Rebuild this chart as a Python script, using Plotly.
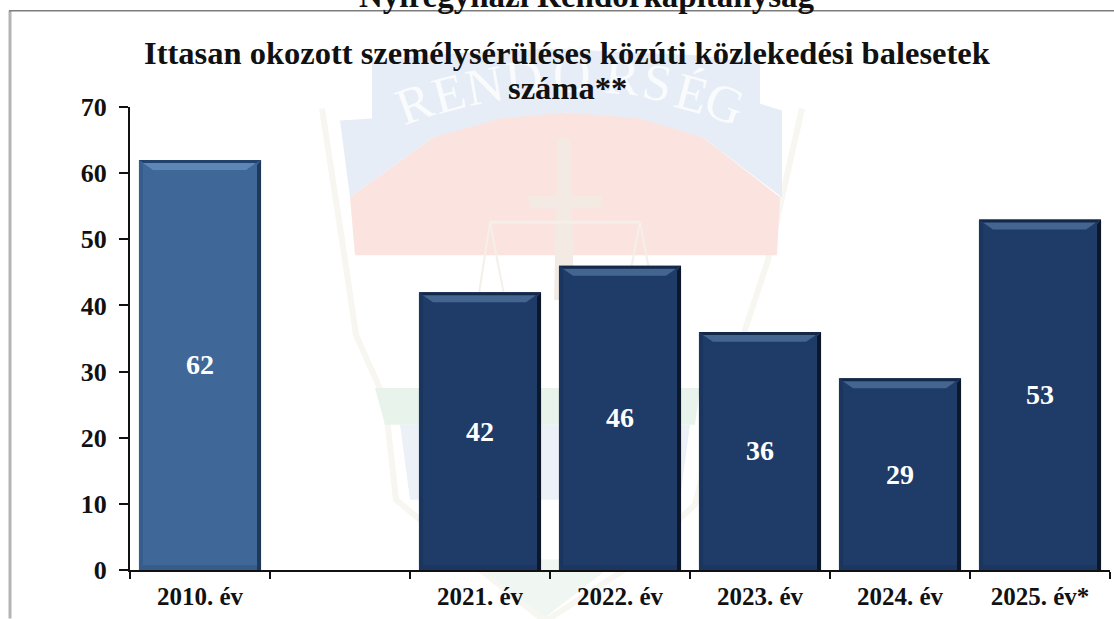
import plotly.graph_objects as go

# ---- data ----
categories = ["2010. év", " ", "2021. év", "2022. év", "2023. év", "2024. év", "2025. év*"]
values = [62, None, 42, 46, 36, 29, 53]
y_ticks = [0, 10, 20, 30, 40, 50, 60, 70]
title_lines = ["Ittasan okozott személysérüléses közúti közlekedési balesetek", "száma**"]
page_heading = "Nyíregyházi Rendőrkapitányság"
watermark_letters = ["R", "E", "N", "D", "Ő", "R", "S", "É", "G"]

# ---- styling ----
FONT = "Liberation Serif"
W, H = 1114, 619
L, R, T, B = 130, 1110, 106.5, 570.5
BAR_W = 0.872
PX_X = (R - L) / 7
PX_Y = (B - T) / 70
palette = {
    "first": dict(main="#3f6898", top="#21426c", hi="#5f87b6", right="#1f3857", left="#365d8c", bottom="#365c8a"),
    "rest": dict(main="#1f3c68", top="#14294a", hi="#44658f", right="#0c1829", left="#1a355e", bottom="#1b3660"),
}

def px(x):
    return (x - L) / (R - L)

def py(y):
    return (B - y) / (B - T)

def path(points, close=True):
    s = "M " + " L ".join(f"{px(a):.4f},{py(b):.4f}" for a, b in points)
    return s + (" Z" if close else "")

def poly(points, fill):
    return dict(type="path", xref="paper", yref="paper", layer="below", path=path(points),
                fillcolor=fill, line=dict(width=0))

def stroke(points, color, width):
    return dict(type="path", xref="paper", yref="paper", layer="below", path=path(points, False),
                line=dict(color=color, width=width))

shapes = [
    # pale badge outline
    stroke([(322, 108), (345, 260), (356, 335), (385, 400), (396, 500), (480, 570), (545, 622),
            (625, 570), (695, 505), (722, 400), (768, 260), (802, 108)], "#f8f6f1", 6),
    # blue ribbon
    poly([(340, 120), (372, 118), (372, 62), (420, 55), (545, 48), (700, 55), (760, 63), (760, 103),
          (782, 110), (782, 197), (703, 137), (567, 112), (433, 137), (350, 197)], "#e6edf6"),
    # red band
    poly([(350, 197), (433, 137), (500, 118), (567, 112), (640, 118), (703, 137), (780, 197), (777, 255), (355, 255)],
         "#fbe3e0"),
    # green band
    poly([(375, 388), (700, 388), (695, 425), (385, 425)], "#e8f3eb"),
    # lower blue
    poly([(400, 425), (690, 425), (680, 500), (410, 500)], "#ecf1f8"),
    # lower green tip
    poly([(470, 560), (620, 560), (545, 618)], "#f0f6f1"),
    # sword
    poly([(558, 138), (570, 138), (574, 300), (554, 300)], "#f3ebe3"),
    poly([(528, 196), (602, 196), (600, 208), (530, 208)], "#f3ebe3"),
    # scales
    stroke([(490, 222), (640, 222)], "#f6eee9", 3),
    stroke([(490, 222), (478, 300)], "#f5efe9", 2),
    stroke([(490, 222), (505, 300)], "#f5efe9", 2),
    stroke([(640, 222), (625, 300)], "#f5efe9", 2),
    stroke([(640, 222), (655, 300)], "#f5efe9", 2),
    # page frame
    dict(type="line", xref="paper", yref="paper", x0=px(10), x1=px(10), y0=py(10), y1=py(619),
         line=dict(color="#b4b4b4", width=3)),
    dict(type="line", xref="paper", yref="paper", x0=px(9), x1=px(1114), y0=py(10), y1=py(10),
         line=dict(color="#7d7d7d", width=1.5)),
]

fig = go.Figure()

# main bars, read from the value and category lists
fig.add_trace(go.Bar(
    x=categories, y=values, width=BAR_W,
    marker=dict(color=[palette["first"]["main"]] + [palette["rest"]["main"]] * 6, line=dict(width=0)),
    text=[None if v is None else str(v) for v in values],
    texttemplate="%{text}", textposition="inside", insidetextanchor="middle", textangle=0,
    textfont=dict(family=FONT, size=28, color="white", weight="bold"),
    constraintext="none", hoverinfo="skip", showlegend=False,
))

# bevel facets, derived from each bar's value
def facets(key, idx):
    xs, ys = [], []
    for i in idx:
        v = values[i]
        if v is None:
            continue
        x0, x1 = i - BAR_W / 2, i + BAR_W / 2
        dx, dy = 1 / PX_X, 1 / PX_Y
        if key == "top":
            pts = [(x0, v), (x1, v), (x1 - 6 * dx, v - 4 * dy), (x0 + 6 * dx, v - 4 * dy)]
        elif key == "hi":
            pts = [(x0 + 4 * dx, v - 3 * dy), (x1 - 5 * dx, v - 3 * dy), (x1 - 15 * dx, v - 10 * dy), (x0 + 14 * dx, v - 10 * dy)]
        elif key == "right":
            pts = [(x1, v), (x1, 0), (x1 - 4 * dx, 0), (x1 - 4 * dx, v - 5 * dy)]
        elif key == "left":
            pts = [(x0, v), (x0, 0), (x0 + 4 * dx, 0), (x0 + 4 * dx, v - 5 * dy)]
        else:
            pts = [(x0, 0), (x1, 0), (x1 - 5 * dx, 5 * dy), (x0 + 5 * dx, 5 * dy)]
        xs += [p[0] for p in pts] + [None]
        ys += [p[1] for p in pts] + [None]
    return xs, ys

for group, idx in (("first", [0]), ("rest", [1, 2, 3, 4, 5, 6])):
    for key in ("left", "bottom", "top", "hi", "right"):
        xs, ys = facets(key, idx)
        fig.add_trace(go.Scatter(x=xs, y=ys, xaxis="x2", mode="lines", fill="toself",
                                 fillcolor=palette[group][key], line=dict(width=0),
                                 hoverinfo="skip", showlegend=False))

# watermark lettering on the ribbon
letter_x = [414, 449, 485, 524, 572, 622, 657, 692, 725]
letter_y = [103, 93, 85, 78, 74, 76, 82, 93, 103]
letter_r = [-20, -15, -10, -5, 0, 5, 10, 15, 20]
annotations = [
    dict(text=c, xref="paper", yref="paper", x=px(a), y=py(b), showarrow=False, textangle=r,
         xanchor="center", yanchor="middle", font=dict(family=FONT, size=52, color="#f9fbfd"))
    for c, a, b, r in zip(watermark_letters, letter_x, letter_y, letter_r)
]
annotations.append(dict(text=f"<b>{page_heading}</b>", xref="paper", yref="paper", x=px(587), y=py(-5),
                        showarrow=False, xanchor="center", yanchor="middle",
                        font=dict(family=FONT, size=33, color="#111111")))
# chart heading, one annotation per line so the line pitch can follow the reference
for line, cx, cy in zip(title_lines, [567, 567], [52, 87]):
    annotations.append(dict(text=f"<b>{line}</b>", xref="paper", yref="paper", x=px(cx), y=py(cy),
                            showarrow=False, xanchor="center", yanchor="middle",
                            font=dict(family=FONT, size=32.5, color="#111111")))

fig.update_layout(
    width=W, height=H, autosize=False,
    margin=dict(l=L, r=W - R, t=T, b=H - B, pad=0),
    paper_bgcolor="white", plot_bgcolor="rgba(0,0,0,0)",
    showlegend=False, barmode="overlay",
    xaxis=dict(type="category", categoryorder="array", categoryarray=categories, range=[-0.5, 6.5],
               tickson="boundaries", ticks="outside", ticklen=7, tickwidth=2, tickcolor="#111111",
               showline=True, linecolor="#111111", linewidth=2, showgrid=False, zeroline=False,
               tickfont=dict(family=FONT, size=25, color="#111111", weight="bold"),
               ticklabelstandoff=3),
    xaxis2=dict(type="linear", overlaying="x", range=[-0.5, 6.5], visible=False),
    yaxis=dict(range=[0, 70], tickmode="array", tickvals=y_ticks, ticks="outside", ticklen=9, tickwidth=2,
               tickcolor="#111111", showline=True, linecolor="#111111", linewidth=2, showgrid=False,
               zeroline=False, tickfont=dict(family=FONT, size=26, color="#111111", weight="bold"),
               ticklabelstandoff=7),
    shapes=shapes, annotations=annotations,
)

fig.write_html("out.html", config=dict(displayModeBar=False),
               post_script="document.body.style.margin='0';document.documentElement.style.overflow='hidden';")
